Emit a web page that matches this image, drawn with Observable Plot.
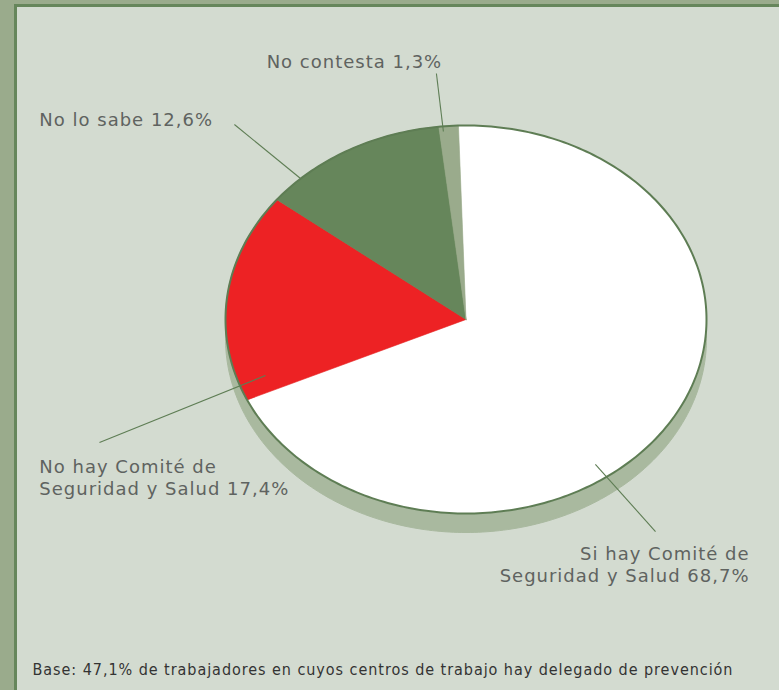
<!DOCTYPE html>
<html>
<head>
<meta charset="utf-8">
<script src="https://cdn.jsdelivr.net/npm/d3@7"></script>
<script src="https://cdn.jsdelivr.net/npm/@observablehq/plot@0.6"></script>
<style>
  html, body { margin: 0; padding: 0; width: 779px; height: 690px; overflow: hidden; background: #9aab8c; }
  #panel { position: absolute; left: 14px; top: 4px; width: 765px; height: 686px; box-sizing: border-box;
           background: #d3dbd0; border-left: 3px solid #66865b; border-top: 3px solid #66865b; }
  #chart { position: absolute; left: 0; top: 0; width: 779px; height: 690px; }
</style>
</head>
<body>
<div id="panel"></div>
<div id="chart"></div>
<script>
// ---- data ----
const categories = ["Si hay Comité de Seguridad y Salud", "No hay Comité de Seguridad y Salud", "No lo sabe", "No contesta"];
const values = [68.7, 17.4, 12.6, 1.3];
const labels = ["Si hay Comité de\nSeguridad y Salud 68,7%", "No hay Comité de\nSeguridad y Salud 17,4%", "No lo sabe 12,6%", "No contesta 1,3%"];
const colors = ["#ffffff", "#ed2224", "#66865b", "#9aab8c"];
const footnote = "Base: 47,1% de trabajadores en cuyos centros de trabajo hay delegado de prevención";

// ---- label layout (pie unit frame) ----
const labelX = [1.179, -1.774, -1.774, -0.464];
const labelY = [-1.258, -0.814, 1.036, 1.335];
const labelAnchor = ["end", "start", "start", "middle"];
const leaderFrom = [[0.788, -1.093], [-1.524, -0.634], [-0.963, 1.005], [-0.123, 1.268]];
const leaderTo = [[0.538, -0.747], [-0.834, -0.289], [-0.688, 0.727], [-0.094, 0.969]];

const startAngle = -1.8; // degrees, clockwise from top
const rad = Math.PI / 180;

// slice polygons
const total = d3.sum(values);
let acc = 0;
const slices = values.map((v, i) => {
  const a0 = startAngle + acc / total * 360;
  acc += v;
  const a1 = startAngle + acc / total * 360;
  const n = Math.max(2, Math.ceil(a1 - a0));
  const pts = [{x: 0, y: 0}];
  for (let k = 0; k <= n; k++) {
    const a = (a0 + (a1 - a0) * k / n) * rad;
    pts.push({x: Math.sin(a), y: Math.cos(a)});
  }
  pts.push({x: 0, y: 0});
  return pts;
});
const ellipse = d3.range(0, 361, 1).map(a => ({x: Math.sin(a * rad), y: Math.cos(a * rad)}));

const labelData = labels.map((t, i) => ({t, x: labelX[i], y: labelY[i], anchor: labelAnchor[i]}));
const leaders = leaderFrom.map((f, i) => ({x1: f[0], y1: f[1], x2: leaderTo[i][0], y2: leaderTo[i][1]}));

const textStyle = {fill: "#5f6360", fontSize: 18, fontFamily: "DejaVu Sans, Verdana, sans-serif", lineHeight: 1.22};

const marks = [
  // shadow
  Plot.line(ellipse, {x: "x", y: "y", dy: 19, fill: "#a9b99f", stroke: "#a9b99f", strokeWidth: 1}),
  // slices
  ...slices.map((pts, i) => Plot.line(pts, {x: "x", y: "y", fill: colors[i], stroke: colors[i], strokeWidth: 0.6})),
  // outline
  Plot.line(ellipse, {x: "x", y: "y", stroke: "#5e7d54", strokeWidth: 2}),
  // leaders
  Plot.link(leaders, {x1: "x1", y1: "y1", x2: "x2", y2: "y2", stroke: "#5e7d54", strokeWidth: 1.1}),
  // labels
  ...["start", "middle", "end"].map(anc => Plot.text(labelData.filter(d => d.anchor === anc), {
    x: "x", y: "y", text: "t", textAnchor: anc, ...textStyle, className: "lbl"
  })),
  // footnote
  Plot.text([footnote], {frameAnchor: "bottom-left", dx: 32, dy: -16, text: d => d, textAnchor: "start",
    fill: "#333333", fontSize: 16, fontFamily: "DejaVu Sans Condensed, sans-serif", className: "foot"})
];

const chart = Plot.plot({
  width: 779,
  height: 690,
  margin: 0,
  style: {background: "transparent"},
  x: {type: "linear", domain: [-1, 1], range: [225, 706], axis: null},
  y: {type: "linear", domain: [-1, 1], range: [513, 125], axis: null},
  marks
});
chart.querySelectorAll(".lbl text").forEach(t => { t.style.letterSpacing = "1px"; });
chart.querySelectorAll(".foot text").forEach(t => { t.style.letterSpacing = "0.95px"; });
document.getElementById("chart").appendChild(chart);
</script>
</body>
</html>
